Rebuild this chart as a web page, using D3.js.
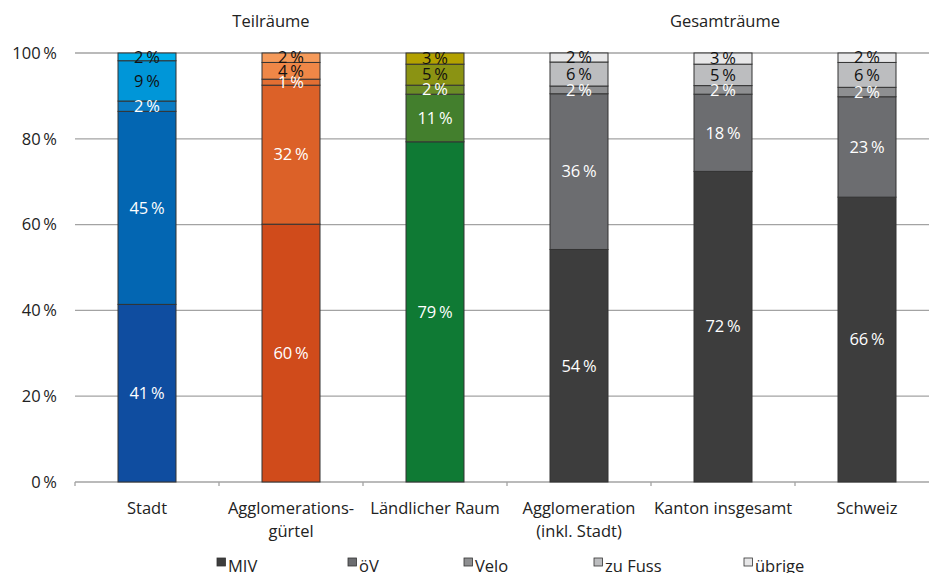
<!DOCTYPE html>
<html><head><meta charset="utf-8">
<script src="https://cdn.jsdelivr.net/npm/d3@7"></script>
<style>body{margin:0;background:#fff}svg{display:block;font-family:'Open Sans',sans-serif}</style>
</head><body><svg id="c" width="929" height="573"></svg>
<script>
const categories = [["Stadt"],["Agglomerations-","gürtel"],["Ländlicher Raum"],["Agglomeration","(inkl. Stadt)"],["Kanton insgesamt"],["Schweiz"]];
const modes = ["MIV","öV","Velo","zu Fuss","übrige"];
const miv     = [41.4, 60.1, 79.3, 54.2, 72.4, 66.4];
const oev     = [45.0, 32.4, 11.1, 36.3, 18.0, 23.4];
const velo    = [2.4, 1.4, 2.1, 1.8, 2.0, 2.2];
const fuss    = [9.4, 3.9, 4.9, 5.6, 5.0, 5.8];
const uebrige = [1.8, 2.2, 2.6, 2.1, 2.6, 2.2];
const yTicks = [0, 20, 40, 60, 80, 100];
const groupTitles = ["Teilräume", "Gesamträume"];

const blues   = ["#0f4da0","#0366b2","#0a7cc4","#0096d8","#00aeea"];
const oranges = ["#d04b1b","#dc6128","#e36f33","#ef8747","#f59a5a"];
const greens  = ["#0f7a34","#437f2d","#6b8c26","#8b9313","#b3a100"];
const grays   = ["#3d3d3d","#6c6d70","#8e8f91","#bcbdbf","#e7e7e8"];
const palettes = [blues, oranges, greens, grays, grays, grays];
const labelColors = ["#fff","#fff","#fff","#111","#111"];

const series = [miv, oev, velo, fuss, uebrige];
const rows = categories.map((c,i)=>{const r={i}; modes.forEach((m,k)=>r[m]=series[k][i]); return r;});
const stacked = d3.stack().keys(modes)(rows);

const svg = d3.select("#c");
const x = d3.scaleBand().domain(d3.range(categories.length)).range([75, 939]).paddingInner(0).paddingOuter(0);
const y = d3.scaleLinear().domain([0,100]).range([482, 53]);
const barW = 58;
const fs = 16.5;
const legendX = [217, 348, 464, 594, 744];

// gridlines
svg.append("g").selectAll("line").data(yTicks.filter(t=>t>0)).join("line")
  .attr("x1",75).attr("x2",929).attr("y1",d=>y(d)).attr("y2",d=>y(d))
  .attr("stroke","#a3a3a3").attr("stroke-width",1.3);

// y labels
svg.append("g").selectAll("text").data(yTicks).join("text")
  .attr("x",57).attr("y",d=>y(d)).attr("dy","0.35em").attr("text-anchor","end")
  .attr("font-size",fs).attr("fill","#222").text(d=>d+"\u2009%");

// x axis
const xa = svg.append("g");
xa.append("line").attr("x1",75).attr("x2",929).attr("y1",y(0)).attr("y2",y(0)).attr("stroke","#a3a3a3").attr("stroke-width",1.3);
xa.selectAll("line.t").data(d3.range(categories.length+1)).join("line").attr("class","t")
  .attr("x1",d=>75+d*x.bandwidth()).attr("x2",d=>75+d*x.bandwidth())
  .attr("y1",y(0)).attr("y2",y(0)+4).attr("stroke","#a3a3a3").attr("stroke-width",1.3);
xa.selectAll("text").data(categories).join("text")
  .attr("text-anchor","middle").attr("font-size",fs).attr("fill","#222")
  .attr("transform",(d,i)=>`translate(${x(i)+x.bandwidth()/2},514)`)
  .each(function(d){ d3.select(this).selectAll("tspan").data(d).join("tspan").attr("x",0).attr("dy",(t,j)=>j?23:0).text(t=>t); });

// bars
stacked.forEach((layer,k)=>{
  const g = svg.append("g");
  g.selectAll("rect").data(layer).join("rect")
    .attr("x",d=>x(d.data.i)+x.bandwidth()/2-barW/2).attr("width",barW)
    .attr("y",d=>y(d[1])).attr("height",d=>y(d[0])-y(d[1]))
    .attr("fill",d=>palettes[d.data.i][k]).attr("stroke","#333").attr("stroke-width",1);
});
stacked.forEach((layer,k)=>{
  svg.append("g").selectAll("text").data(layer).join("text")
    .attr("x",d=>x(d.data.i)+x.bandwidth()/2).attr("y",d=>y((d[0]+d[1])/2)).attr("dy","0.35em")
    .attr("text-anchor","middle").attr("font-size",fs).attr("fill",labelColors[k])
    .text(d=>Math.round(d[1]-d[0])+"\u2009%");
});

// group titles
svg.append("text").attr("x",(x(0)+x(2)+x.bandwidth())/2-20).attr("y",27).attr("text-anchor","middle").attr("font-size",16.5).attr("fill","#222").text(groupTitles[0]);
svg.append("text").attr("x",(x(3)+x(5)+x.bandwidth())/2+2).attr("y",27).attr("text-anchor","middle").attr("font-size",16.5).attr("fill","#222").text(groupTitles[1]);

// legend
const lg = svg.append("g").selectAll("g").data(modes).join("g")
  .attr("transform",(d,i)=>`translate(${legendX[i]},558)`);
lg.append("rect").attr("width",8.5).attr("height",8).attr("fill",(d,i)=>grays[i]).attr("stroke","#333").attr("stroke-width",0.8);
lg.append("text").attr("x",11).attr("y",14).attr("font-size",fs).attr("fill","#222").text(d=>d);
</script></body></html>
